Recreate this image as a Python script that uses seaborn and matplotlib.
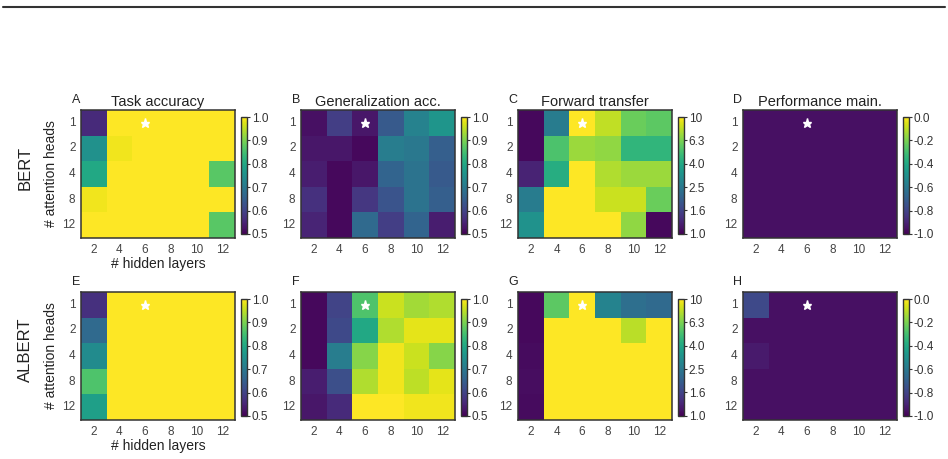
import matplotlib
matplotlib.use("Agg")
import matplotlib.pyplot as plt
from matplotlib.colors import LogNorm
from matplotlib.lines import Line2D
import numpy as np
import pandas as pd
import seaborn as sns

sns.set_theme(style="white")
plt.rcParams["font.family"] = ["Liberation Sans", "DejaVu Sans"]

heads = [1, 2, 4, 8, 12]
layers = [2, 4, 6, 8, 10, 12]

# rows = attention heads (1,2,4,8,12), cols = hidden layers (2..12)
bert_task = [[0.56, 1.00, 1.00, 1.00, 1.00, 1.00],
             [0.75, 0.99, 1.00, 1.00, 1.00, 1.00],
             [0.80, 1.00, 1.00, 1.00, 1.00, 0.87],
             [0.99, 1.00, 1.00, 1.00, 1.00, 1.00],
             [1.00, 1.00, 1.00, 1.00, 1.00, 0.87]]
bert_gen = [[0.52, 0.59, 0.53, 0.64, 0.72, 0.76],
            [0.53, 0.53, 0.51, 0.71, 0.70, 0.65],
            [0.54, 0.51, 0.53, 0.66, 0.69, 0.64],
            [0.57, 0.51, 0.58, 0.63, 0.69, 0.65],
            [0.55, 0.51, 0.67, 0.59, 0.66, 0.54]]
bert_fwd = [[1.05, 2.6, 10.0, 8.0, 5.9, 5.6],
            [1.05, 5.2, 7.1, 6.8, 4.5, 4.5],
            [1.25, 4.2, 10.0, 7.6, 7.1, 7.1],
            [2.6, 10.0, 10.0, 8.3, 8.3, 5.9],
            [3.2, 10.0, 10.0, 10.0, 6.8, 1.05]]
bert_perf = [[-0.96] * 6 for _ in heads]

albert_task = [[0.57, 1.00, 1.00, 1.00, 1.00, 1.00],
               [0.67, 1.00, 1.00, 1.00, 1.00, 1.00],
               [0.74, 1.00, 1.00, 1.00, 1.00, 1.00],
               [0.86, 1.00, 1.00, 1.00, 1.00, 1.00],
               [0.78, 1.00, 1.00, 1.00, 1.00, 1.00]]
albert_gen = [[0.51, 0.60, 0.86, 0.96, 0.93, 0.94],
              [0.51, 0.61, 0.80, 0.94, 0.98, 0.98],
              [0.51, 0.71, 0.91, 0.99, 0.96, 0.91],
              [0.54, 0.62, 0.94, 0.99, 0.95, 0.98],
              [0.53, 0.56, 1.00, 1.00, 0.99, 0.99]]
albert_fwd = [[1.05, 5.6, 10.0, 2.8, 2.3, 2.2],
              [1.05, 10.0, 10.0, 10.0, 7.9, 10.0],
              [1.07, 10.0, 10.0, 10.0, 10.0, 10.0],
              [1.08, 10.0, 10.0, 10.0, 10.0, 10.0],
              [1.07, 10.0, 10.0, 10.0, 10.0, 10.0]]
albert_perf = [[-0.78, -0.96, -0.96, -0.96, -0.96, -0.96],
               [-0.96, -0.96, -0.96, -0.96, -0.96, -0.96],
               [-0.93, -0.96, -0.96, -0.96, -0.96, -0.96],
               [-0.96, -0.96, -0.96, -0.96, -0.96, -0.96],
               [-0.96, -0.96, -0.96, -0.96, -0.96, -0.96]]

titles = ["Task accuracy", "Generalization acc.", "Forward transfer", "Performance main."]
letters = [["A", "B", "C", "D"], ["E", "F", "G", "H"]]
models = ["BERT", "ALBERT"]
data = [[bert_task, bert_gen, bert_fwd, bert_perf],
        [albert_task, albert_gen, albert_fwd, albert_perf]]

acc_ticks = [0.5, 0.6, 0.7, 0.8, 0.9, 1.0]
fwd_ticks = [1.0, 1.6, 2.5, 4.0, 6.3, 10]
fwd_labels = ["1.0", "1.6", "2.5", "4.0", "6.3", "10"]
perf_ticks = [-1.0, -0.8, -0.6, -0.4, -0.2, 0.0]

W, H = 948, 459
fig = plt.figure(figsize=(W / 100, H / 100), dpi=100)

def box(x, y_top, w, h):
    return [x / W, (H - y_top - h) / H, w / W, h / H]

col_x = [81, 301, 518, 743]
row_top = [110, 292]
hw, hh = 154, 128
text_col = "#222222"

for r in range(2):
    for c in range(4):
        x0, y0 = col_x[c], row_top[r]
        ax = fig.add_axes(box(x0, y0, hw, hh))
        cax = fig.add_axes(box(x0 + hw + 6, y0 + 7, 6, hh - 11))
        df = pd.DataFrame(data[r][c], index=heads, columns=layers)
        kw = dict(cmap="viridis", ax=ax, cbar_ax=cax, xticklabels=layers, yticklabels=heads)
        if c == 2:
            sns.heatmap(df, norm=LogNorm(vmin=1, vmax=10), cbar_kws={"ticks": fwd_ticks}, **kw)
        elif c == 3:
            sns.heatmap(df, vmin=-1, vmax=0, cbar_kws={"ticks": perf_ticks}, **kw)
        else:
            sns.heatmap(df, vmin=0.5, vmax=1.0, cbar_kws={"ticks": acc_ticks}, **kw)

        for s in ax.spines.values():
            s.set_visible(True)
            s.set_color("#333333")
            s.set_linewidth(1.1)
        ax.tick_params(length=0, labelsize=8.5, colors="#444444", pad=4)
        ax.set_yticklabels(heads, rotation=0)
        ax.set_xticklabels(layers, rotation=0)
        ax.set_xlabel("")
        ax.set_ylabel("")

        # best configuration marker: 6 layers, 1 head
        ax.plot(layers.index(6) + 0.5, heads.index(1) + 0.5, marker="*", color="white",
                ms=6.5, mec="white")

        cb = ax.collections[0].colorbar
        cb.outline.set_linewidth(1.0)
        cb.outline.set_edgecolor("#333333")
        cb.ax.minorticks_off()
        if c == 2:
            cb.set_ticks(fwd_ticks)
            cb.set_ticklabels(fwd_labels)
        elif c == 3:
            cb.set_ticklabels(["-1.0", "-0.8", "-0.6", "-0.4", "-0.2", "0.0"])
        else:
            cb.set_ticklabels(["0.5", "0.6", "0.7", "0.8", "0.9", "1.0"])
        cb.ax.tick_params(length=2.5, width=0.8, labelsize=8.5, colors="#333333", pad=1, right=True)

        if r == 0:
            ax.set_title(titles[c], fontsize=10.5, color=text_col, pad=3)
        fig.text((x0 - 5) / W, 1 - (y0 - 10) / H, letters[r][c], fontsize=9,
                 color=text_col, ha="center", va="center")

        if c == 0:
            ax.set_ylabel("# attention heads", fontsize=10, color=text_col, labelpad=3)
            ax.set_xlabel("# hidden layers", fontsize=10, color=text_col, labelpad=1)

    fig.text(25 / W, 1 - (row_top[r] + hh / 2 - 6) / H, models[r], rotation=90,
             fontsize=12, color=text_col, ha="center", va="center")

fig.add_artist(Line2D([3 / W, 945 / W], [1 - 7 / H, 1 - 7 / H], color="#333333", lw=1.5))

fig.savefig("out.png", dpi=100)
